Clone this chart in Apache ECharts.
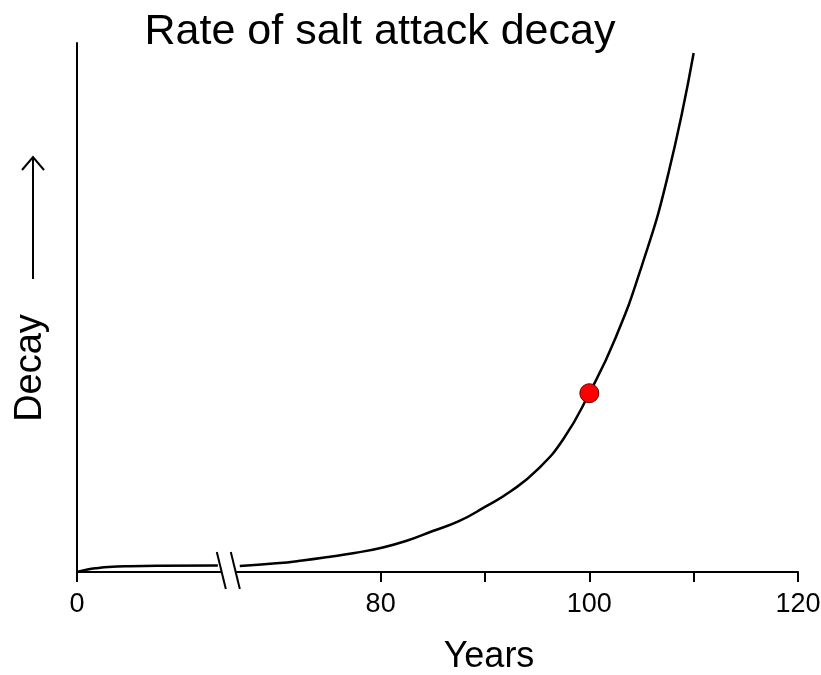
<!DOCTYPE html>
<html><head><meta charset="utf-8">
<script src="https://cdn.jsdelivr.net/npm/echarts@6/dist/echarts.min.js"></script>
<style>html,body{margin:0;padding:0;background:#fff}#c{width:821px;height:675px}</style>
</head><body><div id="c"></div>
<script>
const chartTitle = 'Rate of salt attack decay';
const xName = 'Years';
const yName = 'Decay';
const yearsEarly = [0, 1, 2, 3, 5, 8, 13.5];
const decayEarly = [0, 0.47, 0.76, 0.95, 1.1, 1.19, 1.23];
const yearsLate = [66.5, 70, 72.5, 75, 77.5, 80, 82.5, 85, 87.5, 90, 92.5, 95, 97.5, 100, 102.5, 105, 107.5, 110];
const decayLate = [1.15, 1.64, 2.17, 2.84, 3.6, 4.54, 5.9, 7.75, 9.6, 12.3, 15.3, 19.3, 25.1, 33.8, 44.2, 57.7, 74.7, 98.1];
const markedYear = [100];
const markedDecay = [33.8];
const tickYears = [0, 80, 90, 100, 110, 120];
const labelYears = [0, 80, 100, 120];
const BREAK_START = 13.5, BREAK_END = 66.5, BREAK_GAP = 2.1;

function toAxis(y) { return y <= BREAK_START ? y : y - (BREAK_END - BREAK_START) + BREAK_GAP; }
function fromAxis(d) { return d <= BREAK_START ? d : d + (BREAK_END - BREAK_START) - BREAK_GAP; }

const FONT = 'Liberation Sans, Arial, sans-serif';
const chart = echarts.init(document.getElementById('c'), null, {renderer: 'canvas'});
const lineStyle = {color: '#000', width: 2.5};
chart.setOption({
  backgroundColor: '#fff',
  animation: false,
  grid: {left: 77, right: 23, top: 43, bottom: 103, outerBoundsMode: 'none', containLabel: false},
  xAxis: {
    type: 'value', min: 0, max: toAxis(120),
    splitLine: {show: false},
    axisLine: {lineStyle: {color: '#000', width: 2}},
    axisTick: {length: 10, lineStyle: {color: '#000', width: 2}, customValues: tickYears.map(toAxis)},
    axisLabel: {customValues: labelYears.map(toAxis), formatter: v => String(Math.round(fromAxis(v))),
      fontSize: 27, color: '#000', fontFamily: FONT, margin: 19}
  },
  yAxis: {
    type: 'value', min: 0, max: 100,
    splitLine: {show: false},
    axisLine: {show: true, lineStyle: {color: '#000', width: 2}},
    axisTick: {show: false}, axisLabel: {show: false}
  },
  series: [
    {type: 'line', data: yearsEarly.map((y, i) => [toAxis(y), decayEarly[i]]), smooth: 0.5,
      symbol: 'none', lineStyle: lineStyle},
    {type: 'line', data: yearsLate.map((y, i) => [toAxis(y), decayLate[i]]), smooth: 0.5,
      symbol: 'none', lineStyle: lineStyle},
    {type: 'scatter', data: markedYear.map((y, i) => [toAxis(y), markedDecay[i]]), symbolSize: 19, z: 5,
      itemStyle: {color: '#ff0000', borderColor: '#6b0000', borderWidth: 1, opacity: 1}}
  ]
});

const c = chart.convertToPixel({gridIndex: 0}, [BREAK_START + BREAK_GAP / 2, 0]);
const cx = c[0], y0 = c[1];
const s1 = [[cx - 12, y0 - 20], [cx - 3, y0 + 17]];
const s2 = [[cx + 2, y0 - 20], [cx + 11, y0 + 17]];
chart.setOption({
  graphic: [
    {type: 'text', style: {text: chartTitle, x: 380, y: 32, fontSize: 43, fontFamily: FONT,
      fill: '#000', align: 'center', verticalAlign: 'middle'}},
    {type: 'text', style: {text: xName, x: 489, y: 657, fontSize: 36, fontFamily: FONT,
      fill: '#000', align: 'center', verticalAlign: 'middle'}},
    {type: 'text', x: 31, y: 368, rotation: Math.PI / 2, style: {text: yName, x: 0, y: 0, fontSize: 38,
      fontFamily: FONT, fill: '#000', align: 'center', verticalAlign: 'middle'}},
    {type: 'line', shape: {x1: 33, y1: 279, x2: 33, y2: 158}, style: {stroke: '#000', lineWidth: 2}},
    {type: 'polyline', shape: {points: [[22, 170], [33, 157], [44, 170]]}, style: {stroke: '#000', lineWidth: 2, fill: null}},
    {type: 'polygon', z: 50, shape: {points: [s1[0], s2[0], s2[1], s1[1]]}, style: {fill: '#fff', stroke: null}},
    {type: 'line', z: 51, shape: {x1: s1[0][0], y1: s1[0][1], x2: s1[1][0], y2: s1[1][1]}, style: {stroke: '#000', lineWidth: 2}},
    {type: 'line', z: 51, shape: {x1: s2[0][0], y1: s2[0][1], x2: s2[1][0], y2: s2[1][1]}, style: {stroke: '#000', lineWidth: 2}}
  ]
});
</script></body></html>
